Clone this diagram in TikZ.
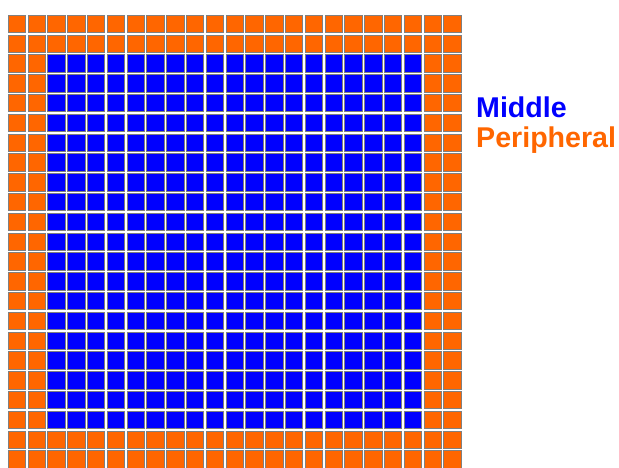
\documentclass[tikz,border=0pt]{standalone}
\usepackage{fontspec}
\setmainfont{Liberation Sans}
\usepackage{tikz}
\usetikzlibrary{positioning}
\definecolor{midblue}{RGB}{0,0,255}
\definecolor{perorange}{RGB}{255,102,0}

\begin{document}
\begin{tikzpicture}[x=1pt,y=-1pt]
	 \tikzstyle{cell}=[draw=black!50,line width=0.7pt]
	 \tikzstyle{legend}=[anchor=base west,inner sep=0pt,font=\fontsize{28.6}{32}\selectfont\bfseries]
	 \useasboundingbox (0,0) rectangle (619,468);

	 % outer ring first, middle cells drawn over it
	 \foreach \i in {0,...,22}
	   \foreach \j in {0,...,22}
	     \draw[cell,fill=perorange] ({8.2+19.8*\i},{15.2+19.8*\j}) rectangle ++(17.4,17.4);
	 \foreach \i in {2,...,20}
	   \foreach \j in {2,...,20}
	     \draw[cell,fill=midblue] ({8.2+19.8*\i},{15.2+19.8*\j}) rectangle ++(17.4,17.4);

	 \node[legend,text=midblue] (middle) at (476,118) {Middle};
	 \node[legend,text=perorange] (peripheral) at (476,148) {Peripheral};

 \end{tikzpicture}
\end{document}
